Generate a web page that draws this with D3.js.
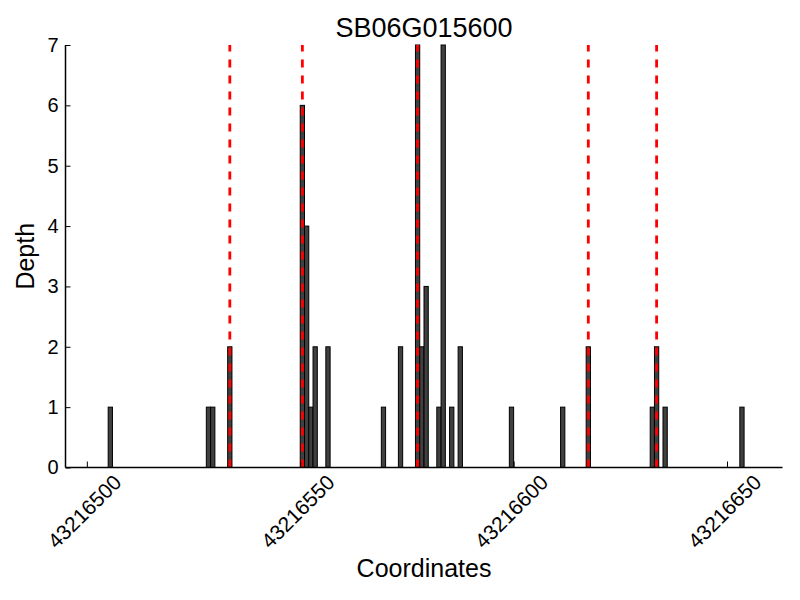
<!DOCTYPE html>
<html>
<head>
<meta charset="utf-8">
<script src="https://cdn.jsdelivr.net/npm/d3@7"></script>
<style>
html, body { margin: 0; padding: 0; background: #fff; }
text { font-family: "Liberation Sans", Arial, sans-serif; fill: #000; }
</style>
</head>
<body>
<svg id="chart" width="800" height="600"></svg>
<script>
// ---- data ----
const title = "SB06G015600";
const xLabel = "Coordinates";
const yLabel = "Depth";
const binStarts = [43216505, 43216528, 43216529, 43216533, 43216550, 43216551, 43216552, 43216553, 43216556,
  43216569, 43216573, 43216577, 43216578, 43216579, 43216582, 43216583, 43216585, 43216587,
  43216599, 43216611, 43216617, 43216632, 43216633, 43216635, 43216653];
const depths = [1, 1, 1, 2, 6, 4, 1, 2, 2, 1, 2, 7, 2, 3, 1, 7, 1, 2, 1, 1, 2, 1, 2, 1, 1];
const binWidth = 1;
const markers = [43216533.5, 43216550.5, 43216577.5, 43216617.5, 43216633.5];
const xDomain = [43216495, 43216663];
const yDomain = [0, 7];
const xTicks = [43216500, 43216550, 43216600, 43216650];
const yTicks = [0, 1, 2, 3, 4, 5, 6, 7];

// ---- layout ----
const mLeft = 65.5, mRight = 782.5, mTop = 45, mBottom = 467.5;
const svg = d3.select("#chart");
const x = d3.scaleLinear().domain(xDomain).range([mLeft, mRight]);
const y = d3.scaleLinear().domain(yDomain).range([mBottom, mTop]);

const bars = binStarts.map((s, i) => ({ s, d: depths[i] }));

svg.append("g").selectAll("rect").data(bars).join("rect")
  .attr("x", d => x(d.s))
  .attr("width", d => x(d.s + binWidth) - x(d.s))
  .attr("y", d => y(d.d))
  .attr("height", d => y(0) - y(d.d))
  .attr("fill", "#404040")
  .attr("stroke", "#000")
  .attr("stroke-width", 1);

svg.append("g").selectAll("line").data(markers).join("line")
  .attr("x1", d => x(d)).attr("x2", d => x(d))
  .attr("y1", y(yDomain[0])).attr("y2", y(yDomain[1]))
  .attr("stroke", "#ff0000")
  .attr("stroke-width", 2.8)
  .attr("stroke-dasharray", "8,8");

// axes
const xAxis = d3.axisBottom(x).tickValues(xTicks).tickSize(-6).tickFormat(d3.format("d"));
const gx = svg.append("g").attr("transform", `translate(0,${mBottom})`).call(xAxis);
gx.select(".domain").attr("d", `M${mLeft},0H${mRight}`).attr("stroke-width", 1.5);
gx.selectAll(".tick line").attr("stroke-width", 1);
gx.selectAll(".tick text")
  .attr("font-size", 21)
  .attr("font-family", "Liberation Sans, Arial, sans-serif")
  .attr("text-anchor", "middle")
  .attr("dominant-baseline", "central")
  .attr("dy", null)
  .attr("y", null)
  .attr("transform", "translate(-3,44) rotate(-45)");

const yAxis = d3.axisLeft(y).tickValues(yTicks).tickSize(-5).tickPadding(7).tickFormat(d3.format("d"));
const gy = svg.append("g").attr("transform", `translate(${mLeft},0)`).call(yAxis);
gy.select(".domain").attr("d", `M0,${mTop}V${mBottom}`).attr("stroke-width", 1.5);
gy.selectAll(".tick text")
  .attr("font-size", 20)
  .attr("font-family", "Liberation Sans, Arial, sans-serif");

// titles
svg.append("text").attr("x", (mLeft + mRight) / 2).attr("y", 37)
  .attr("text-anchor", "middle").attr("font-size", 27).text(title);
svg.append("text").attr("x", (mLeft + mRight) / 2).attr("y", 577)
  .attr("text-anchor", "middle").attr("font-size", 25).text(xLabel);
svg.append("text").attr("transform", `translate(34,${(mTop + mBottom) / 2}) rotate(-90)`)
  .attr("text-anchor", "middle").attr("font-size", 25).text(yLabel);
</script>
</body>
</html>
